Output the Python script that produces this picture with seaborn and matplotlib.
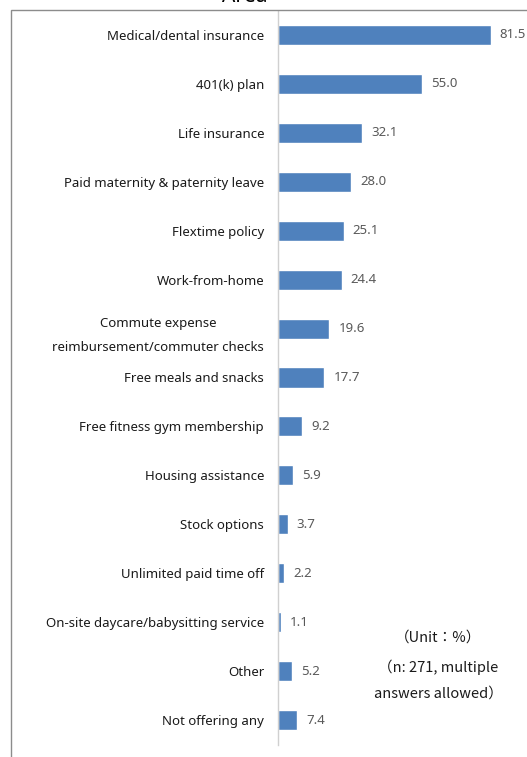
import numpy as np
import pandas as pd
import matplotlib
matplotlib.use('Agg')
import matplotlib.pyplot as plt
import seaborn as sns
from matplotlib.patches import Rectangle

# chart data
benefits = ['Medical/dental insurance', '401(k) plan', 'Life insurance',
            'Paid maternity & paternity leave', 'Flextime policy', 'Work-from-home',
            'Commute expense\nreimbursement/commuter checks', 'Free meals and snacks',
            'Free fitness gym membership', 'Housing assistance', 'Stock options',
            'Unlimited paid time off', 'On-site daycare/babysitting service',
            'Other', 'Not offering any']
share = [81.5, 55.0, 32.1, 28.0, 25.1, 24.4, 19.6, 17.7, 9.2, 5.9, 3.7, 2.2, 1.1, 5.2, 7.4]
note_lines = ['（Unit：%）', '（n: 271, multiple', 'answers allowed）']

df = pd.DataFrame({'benefit': benefits, 'share': share})

sns.set_style('white')
plt.rcParams['font.family'] = ['Noto Sans', 'Noto Sans CJK JP', 'DejaVu Sans']

W, H = 527, 757
fig = plt.figure(figsize=(W / 100, H / 100), dpi=100)

# outer chart frame (cropped on the right and bottom)
fig.patches.append(Rectangle((11 / W, -0.1), 1.2, 1 - 10 / H + 0.1,
                             transform=fig.transFigure, fill=False,
                             edgecolor='#8c8c8c', linewidth=1.0))
# title sits mostly above the crop
fig.text(245 / W, 1 - 1.5 / H, 'Area', ha='center', va='baseline',
         fontsize=15, fontweight='bold', color='black')

ax = fig.add_axes([278 / W, 1 - 744.5 / H, (W - 278) / W, (744.5 - 10.5) / H])
sns.barplot(data=df, x='share', y='benefit', color='#4f81bd', saturation=1,
            width=0.41, ax=ax, orient='h')
ax.set_xlim(0, (W - 278) / 2.61)
ax.set_ylim(len(benefits) - 0.5, -0.5)

for i, v in enumerate(share):
    ax.text(v + 3.5, i, f'{v:.1f}', va='center', ha='left',
            fontsize=9.5, color='#595959')

ax.set_xlabel('')
ax.set_ylabel('')
ax.set_xticks([])
ax.tick_params(axis='y', length=0, pad=10)
ax.set_yticklabels(benefits, fontsize=9.5, color='#1a1a1a',
                   multialignment='center', linespacing=2.1)
for s in ['top', 'right', 'bottom']:
    ax.spines[s].set_visible(False)
ax.spines['left'].set_color('#d0d0d0')
ax.spines['left'].set_linewidth(1.0)
ax.patch.set_alpha(0)

for txt, y in zip(note_lines, [638, 667, 694]):
    fig.text(438 / W, 1 - y / H, txt, ha='center', va='center', fontsize=10.5,
             color='#1a1a1a', family=['Noto Sans CJK JP', 'DejaVu Sans'])

fig.savefig('out.png', dpi=100)
